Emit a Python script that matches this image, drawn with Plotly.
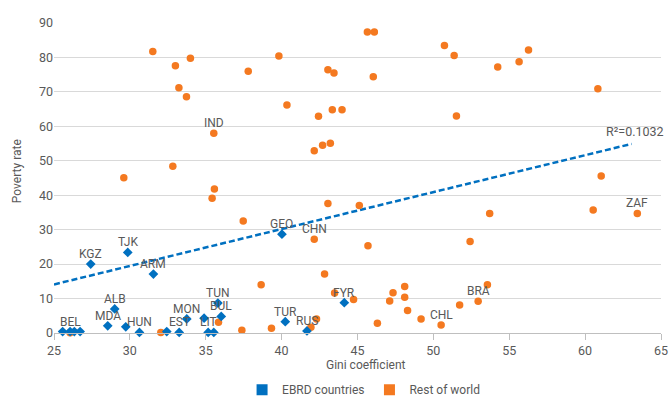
import plotly.graph_objects as go

# EBRD economies: Gini coefficient, poverty rate (%), point label
ebrd_gini = [25.57, 26.06, 26.34, 26.72, 27.42, 28.54, 29.00, 29.73, 29.86, 30.63,
             31.55, 32.43, 33.25, 33.75, 34.89, 35.16, 35.53, 35.80, 36.02, 40.02,
             40.24, 41.67, 44.13]
ebrd_poverty = [0.4, 0.4, 0.4, 0.4, 20.0, 2.1, 7.0, 1.8, 23.4, 0.15,
                17.1, 0.4, 0.15, 4.1, 4.3, 0.15, 0.15, 8.7, 4.8, 28.7,
                3.3, 0.6, 8.8]
ebrd_labels = ["", "BEL", "", "", "KGZ", "MDA", "ALB", "", "TJK", "HUN",
               "ARM", "", "EST", "MON", "", "LIT", "", "TUN", "BUL", "GEO",
               "TUR", "RUS", "FYR"]

# Rest of world
row_gini = [26.06, 29.60, 31.51, 32.04, 32.83, 33.00, 33.23, 33.73, 33.99, 35.42,
            35.53, 35.57, 35.84, 37.38, 37.47, 37.80, 38.65, 39.33, 39.82, 40.35,
            41.93, 42.15, 42.15, 42.30, 42.43, 42.70, 42.83, 43.05, 43.05, 43.21,
            43.34, 43.45, 43.49, 43.98, 44.74, 45.12, 45.65, 45.69, 46.04, 46.11,
            46.31, 47.12, 47.34, 48.11, 48.11, 48.30, 49.19, 50.51, 50.73, 51.37,
            51.52, 51.73, 52.42, 52.95, 53.56, 53.71, 54.24, 55.65, 56.27, 60.53,
            60.84, 61.06, 63.44]
row_poverty = [0.1, 45.1, 81.7, 0.15, 48.4, 77.6, 71.2, 68.6, 79.8, 39.1,
               58.0, 41.8, 3.1, 0.8, 32.5, 76.0, 14.0, 1.4, 80.4, 66.2,
               1.7, 27.2, 52.9, 4.1, 62.9, 54.5, 17.1, 37.6, 76.4, 55.1,
               64.8, 75.5, 11.6, 64.8, 9.75, 37.0, 87.4, 25.3, 74.4, 87.4,
               2.85, 9.3, 11.7, 13.5, 10.4, 6.5, 4.1, 2.3, 83.5, 80.6,
               63.0, 8.1, 26.6, 9.25, 14.0, 34.7, 77.2, 78.75, 82.15, 35.7,
               70.9, 45.6, 34.7]
row_labels = ["", "", "", "", "", "", "", "", "", "",
              "IND", "", "", "", "", "", "", "", "", "",
              "", "CHN", "", "", "", "", "", "", "", "",
              "", "", "", "", "", "", "", "", "", "",
              "", "", "", "", "", "", "", "CHL", "", "",
              "", "", "", "BRA", "", "", "", "", "", "",
              "", "", "ZAF"]

# Linear trend over all countries
trend_x = [25.0, 63.06]
trend_intercept_at_25 = 14.1
trend_slope = 1.072
r_squared_text = "R²=0.1032"

BLUE = "#0070C0"
ORANGE = "#F47920"
GREY_TEXT = "#595959"
FONT = "Roboto"

trend_y = [trend_intercept_at_25 + trend_slope * (x - 25.0) for x in trend_x]

fig = go.Figure()

fig.add_trace(go.Scatter(
    x=trend_x, y=trend_y, mode="lines",
    line=dict(color=BLUE, width=2.5, dash="6px,3px"),
    showlegend=False, hoverinfo="skip",
))

fig.add_trace(go.Scatter(
    x=row_gini, y=row_poverty, mode="markers",
    marker=dict(symbol="circle", size=7.5, color=ORANGE),
    cliponaxis=False, showlegend=False, name="Rest of world",
))

fig.add_trace(go.Scatter(
    x=ebrd_gini, y=ebrd_poverty, mode="markers",
    marker=dict(symbol="diamond", size=7.5, color=BLUE),
    cliponaxis=False, showlegend=False, name="EBRD countries",
))

# Country codes placed just above their points
for gx, py, lab in list(zip(row_gini, row_poverty, row_labels)) + \
        list(zip(ebrd_gini, ebrd_poverty, ebrd_labels)):
    if lab:
        fig.add_annotation(
            x=gx, y=py, text=lab, showarrow=False, yshift=10,
            xanchor="center", yanchor="middle",
            font=dict(family=FONT, size=12, color=GREY_TEXT),
        )

# Legend entries drawn as squares
for name, color in [("EBRD countries", BLUE), ("Rest of world", ORANGE)]:
    fig.add_trace(go.Scatter(
        x=[None], y=[None], mode="markers", name=name,
        marker=dict(symbol="square", size=11, color=color),
    ))

fig.add_annotation(
    text=r_squared_text, xref="paper", yref="paper",
    x=1.008, y=0.649, xanchor="right", yanchor="middle", showarrow=False,
    font=dict(family=FONT, size=12.5, color=GREY_TEXT),
)
fig.add_annotation(
    text="Gini coefficient", xref="paper", yref="paper",
    x=0.514, y=-0.102, xanchor="center", yanchor="middle", showarrow=False,
    font=dict(family=FONT, size=12, color=GREY_TEXT),
)
fig.add_annotation(
    text="Poverty rate", xref="paper", yref="paper", textangle=-90,
    x=-0.061, y=0.522, xanchor="center", yanchor="middle", showarrow=False,
    font=dict(family=FONT, size=12, color=GREY_TEXT),
)

fig.update_layout(
    width=670, height=396,
    margin=dict(l=54, r=9, t=23, b=63, autoexpand=False),
    paper_bgcolor="white", plot_bgcolor="white",
    font=dict(family=FONT, size=12, color=GREY_TEXT),
    legend=dict(
        orientation="h", x=0.51, xanchor="center", y=-0.183, yanchor="middle",
        font=dict(family=FONT, size=12, color=GREY_TEXT),
        itemwidth=30,
    ),
    xaxis=dict(
        range=[25, 65], dtick=5, tick0=25, showgrid=False, zeroline=False,
        showline=True, linecolor="#BFBFBF", linewidth=1,
        ticks="outside", ticklen=6, tickcolor="#BFBFBF",
        tickfont=dict(family=FONT, size=12.5, color=GREY_TEXT),
    ),
    yaxis=dict(
        range=[0, 90], dtick=10, tick0=0, showgrid=True, gridcolor="#D9D9D9",
        gridwidth=1, zeroline=False, showline=False, ticks="",
        tickfont=dict(family=FONT, size=12.5, color=GREY_TEXT),
    ),
)

fig.write_html("out.html")
